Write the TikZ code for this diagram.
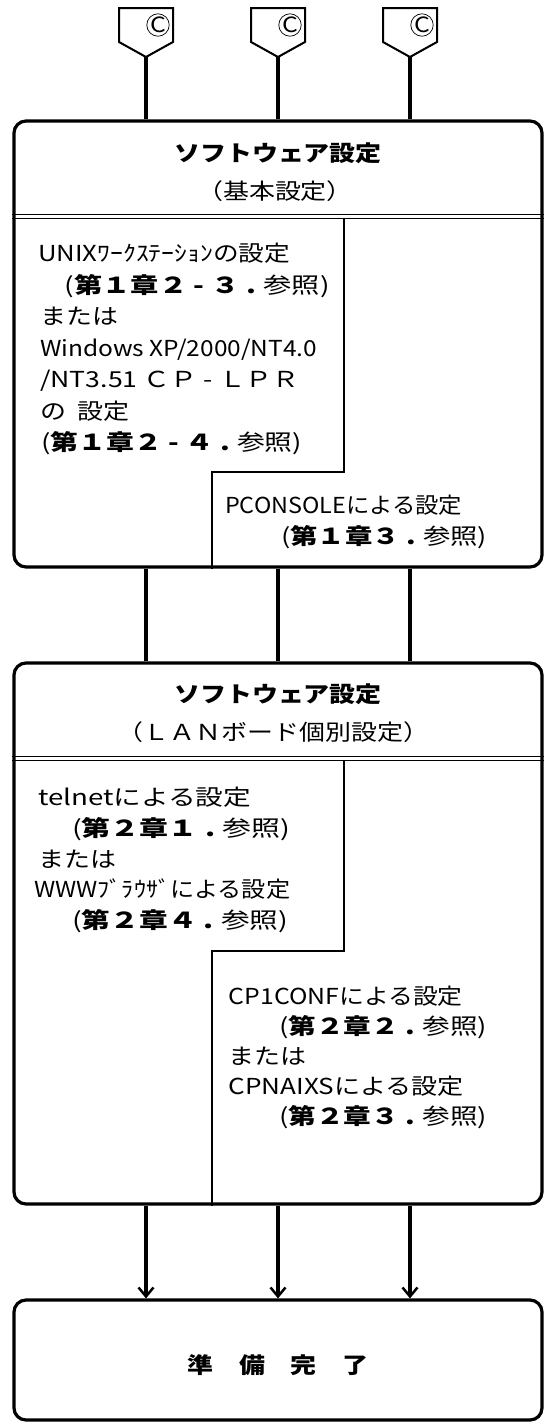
\documentclass[tikz,border=0pt]{standalone}
\usepackage{graphicx}
\usepackage{fontspec}
\setmainfont{Noto Sans CJK JP}[FakeStretch=1.18]
\usetikzlibrary{arrows.meta}
\newcommand\fw[2]{\resizebox{#1pt}{\height}{#2}}
\newcommand\fd{\makebox[1em]{-}}
\newcommand\fp{\makebox[1em]{.}}
\begin{document}
\begin{tikzpicture}[x=1pt,y=-1pt,
  box/.style={draw, line width=3.2pt, rounded corners=12pt, inner sep=0pt},
  thinline/.style={line width=1.7pt},
  conn/.style={line width=3.2pt},
  offpage/.style={line width=2pt, line join=miter},
  txt/.style={anchor=base west, inner sep=0pt, font=\fontsize{22}{26}\selectfont},
  hd/.style={anchor=base, inner sep=0pt, font=\fontsize{22}{26}\selectfont},
  cmark/.style={draw, circle, line width=0.7pt, inner sep=0pt, minimum size=21pt, font=\fontsize{21}{21}\selectfont}]
\useasboundingbox (0,0) rectangle (546,1424);

% boxes
\node[box, minimum width=528pt, minimum height=446pt] (b1) at (278,344) {};
\node[box, minimum width=528pt, minimum height=541pt] (b2) at (278,933.5) {};
\node[box, minimum width=528pt, minimum height=120pt] (b3) at (278,1360) {};

% off-page connectors
\foreach \i/\x in {1/146,2/278,3/410}{
  \draw[offpage] (\x-27,8) -- (\x+27,8) -- (\x+27,42) -- (\x,57) -- (\x-27,42) -- cycle;
  \coordinate (c\i) at (\x,57);
  \node[cmark] (m\i) at (\x+12,25) {C};
}
\draw[conn] (c1) -- (c1 |- b1.north);
\draw[conn] (c2) -- (c2 |- b1.north);
\draw[conn] (c3) -- (c3 |- b1.north);

\draw[conn] (c1 |- b1.south) -- (c1 |- b2.north);
\draw[conn] (c2 |- b1.south) -- (c2 |- b2.north);
\draw[conn] (c3 |- b1.south) -- (c3 |- b2.north);

\draw[conn, -{Straight Barb[length=9pt,width=15pt,line width=2.5pt]}] (c1 |- b2.south) -- (c1 |- b3.north);
\draw[conn, -{Straight Barb[length=9pt,width=15pt,line width=2.5pt]}] (c2 |- b2.south) -- (c2 |- b3.north);
\draw[conn, -{Straight Barb[length=9pt,width=15pt,line width=2.5pt]}] (c3 |- b2.south) -- (c3 |- b3.north);

% box 1 internals
\draw[thinline] (b1.west |- 0,214.5) -- (b1.east |- 0,214.5);
\draw[thinline] (b1.west |- 0,218.5) -- (b1.east |- 0,218.5);
\coordinate (s1a) at (344,218.5);
\coordinate (s1b) at (344,472);
\coordinate (s1c) at (212,472);
\draw[thinline] (s1a) -- (s1b) -- (s1c) -- (s1c |- b1.south);

\node[hd] (t1) at (278,161) {\textbf{ソフトウェア設定}};
\node[hd] (t1s) at (275,199) {（基本設定）};
\node[txt] (l1) at (38,261.5) {\fw{252}{UNIXﾜｰｸｽﾃｰｼｮﾝの設定}};
\node[txt] (l2) at (64.5,293) {\fw{265}{(\textbf{第１章２\fd ３\fp}参照)}};
\node[txt] (l3) at (40,324.5) {または};
\node[txt] (l4) at (40,356) {\fw{277}{Windows XP/2000/NT4.0}};
\node[txt] (l5) at (40,387.5) {\fw{259}{/NT3.51 ＣＰ\fd ＬＰＲ}};
\node[txt] (l6) at (40,419) {の\hspace{0.5em}設定};
\node[txt] (l7) at (41,450.5) {\fw{261}{(\textbf{第１章２\fd ４\fp}参照)}};
\node[txt] (l8) at (225,513.5) {\fw{237}{PCONSOLEによる設定}};
\node[txt] (l9) at (281,544) {\fw{206}{(\textbf{第１章３\fp}参照)}};

% box 2 internals
\draw[thinline] (b2.west |- 0,756.5) -- (b2.east |- 0,756.5);
\draw[thinline] (b2.west |- 0,760.5) -- (b2.east |- 0,760.5);
\coordinate (s2a) at (344,760.5);
\coordinate (s2b) at (344,951);
\coordinate (s2c) at (212,951);
\draw[thinline] (s2a) -- (s2b) -- (s2c) -- (s2c |- b2.south);

\node[hd] (t2) at (278,702) {\textbf{ソフトウェア設定}};
\node[hd] (t2s) at (273.5,740) {（ＬＡＮボード個別設定）};
\node[txt] (k1) at (38,805.5) {\fw{213}{telnetによる設定}};
\node[txt] (k2) at (72,836.5) {\fw{218}{(\textbf{第２章１\fp}参照)}};
\node[txt] (k3) at (38,867) {または};
\node[txt] (k4) at (34,897.5) {\fw{256}{WWWﾌﾞﾗｳｻﾞによる設定}};
\node[txt] (k5) at (72,928.5) {\fw{216}{(\textbf{第２章４\fp}参照)}};
\node[txt] (k6) at (228.5,1004.5) {\fw{234}{CP1CONFによる設定}};
\node[txt] (k7) at (279,1034.5) {\fw{208}{(\textbf{第２章２\fp}参照)}};
\node[txt] (k8) at (228.5,1064.5) {または};
\node[txt] (k9) at (228.5,1094.5) {\fw{235}{CPNAIXSによる設定}};
\node[txt] (k10) at (279,1124.5) {\fw{208}{(\textbf{第２章３\fp}参照)}};

% box 3
\node[hd] (t3) at (278,1373.5) {\textbf{準　備　完　了}};
\end{tikzpicture}
\end{document}
